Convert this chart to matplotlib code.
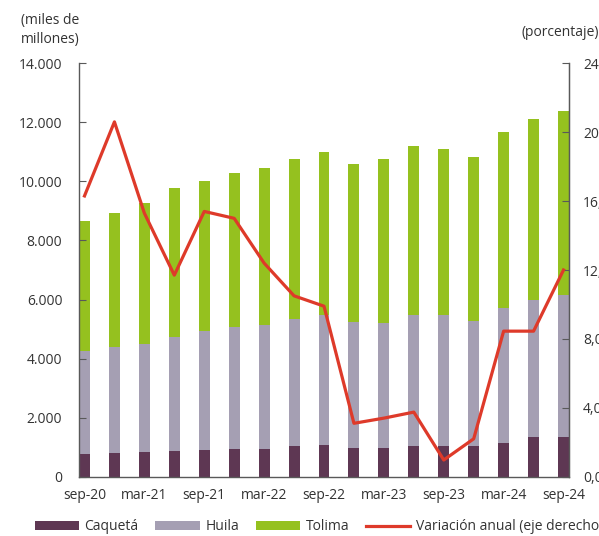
import matplotlib
matplotlib.use('Agg')
import matplotlib.pyplot as plt
import numpy as np

plt.rcParams['font.family'] = ['Open Sans', 'DejaVu Sans']
plt.rcParams['font.size'] = 10

# quarterly data, sep-20 .. sep-24
periods = ['sep-20', 'dic-20', 'mar-21', 'jun-21', 'sep-21', 'dic-21', 'mar-22', 'jun-22',
           'sep-22', 'dic-22', 'mar-23', 'jun-23', 'sep-23', 'dic-23', 'mar-24', 'jun-24', 'sep-24']
caqueta = [760, 793, 827, 869, 904, 939, 939, 1027, 1061, 983, 983, 1027, 1027, 1027, 1132, 1356, 1356]
huila_top = [4240, 4390, 4500, 4730, 4920, 5080, 5150, 5350, 5480, 5245, 5210, 5460, 5460, 5270, 5720, 5980, 6160]
total = [8670, 8930, 9260, 9780, 10000, 10300, 10440, 10770, 11000, 10590, 10770, 11190, 11110, 10810, 11660, 12100, 12400]
variacion = [16.3, 20.6, 15.3, 11.7, 15.4, 15.0, 12.4, 10.5, 9.9, 3.1, 3.4, 3.75, 0.97, 2.2, 8.45, 8.45, 12.0]

huila = [h - c for h, c in zip(huila_top, caqueta)]
tolima = [t - h for t, h in zip(total, huila_top)]

c_caq = '#5E3753'
c_hui = '#A59FB3'
c_tol = '#95C11F'
c_line = '#DE3A2A'
c_axis = '#595959'
c_text = '#333333'

x = np.arange(len(periods))
w = 0.367

fig = plt.figure(figsize=(5.99, 5.36), dpi=100)
ax = fig.add_axes([79/599, 1 - 476.7/536, 490/599, (476.7 - 63.3)/536])

b1 = ax.bar(x, caqueta, w, color=c_caq, label='Caquetá')
b2 = ax.bar(x, huila, w, bottom=caqueta, color=c_hui, label='Huila')
b3 = ax.bar(x, tolima, w, bottom=huila_top, color=c_tol, label='Tolima')

ax.set_xlim(-w/2, len(x) - 1 + w/2)
ax.set_ylim(0, 14000)
ax.set_yticks(np.arange(0, 14001, 2000))
ax.set_yticklabels(['{:,}'.format(v).replace(',', '.') for v in range(0, 14001, 2000)])
ax.set_xticks(x[::2])
ax.set_xticklabels(periods[::2])
ax.tick_params(axis='x', length=0, pad=8, colors=c_text)
ax.tick_params(axis='y', direction='in', length=5, pad=12, colors=c_axis, labelcolor=c_text)
ax.spines['top'].set_visible(False)
for s in ['left', 'right', 'bottom']:
    ax.spines[s].set_color(c_axis)
    ax.spines[s].set_linewidth(1)

ax2 = ax.twinx()
line, = ax2.plot(x, variacion, color=c_line, linewidth=2.3, label='Variación anual (eje derecho)')
ax2.set_ylim(0, 24)
ax2.set_yticks(np.arange(0, 25, 4))
ax2.set_yticklabels([('%.1f' % v).replace('.', ',') for v in range(0, 25, 4)])
ax2.tick_params(axis='y', direction='in', length=5, pad=10, colors=c_axis, labelcolor=c_text)
ax2.spines['top'].set_visible(False)
ax2.spines['right'].set_color(c_axis)
ax2.spines['left'].set_visible(False)
ax2.spines['bottom'].set_visible(False)

fig.text(50/599, 1 - 30/536, '(miles de\nmillones)', ha='center', va='center',
         color=c_text, linespacing=1.3)
fig.text(521/599, 1 - 33/536, '(porcentaje)', ha='left', va='center', color=c_text)

fig.legend([b1, b2, b3, line], ['Caquetá', 'Huila', 'Tolima', 'Variación anual (eje derecho)'],
           loc='center left', bbox_to_anchor=(22/599, 1 - 527/536), ncol=4, frameon=False,
           handlelength=3.2, handleheight=0.6, handletextpad=0.4, columnspacing=1.2,
           labelcolor=c_text)

fig.savefig('out.png', dpi=100)
